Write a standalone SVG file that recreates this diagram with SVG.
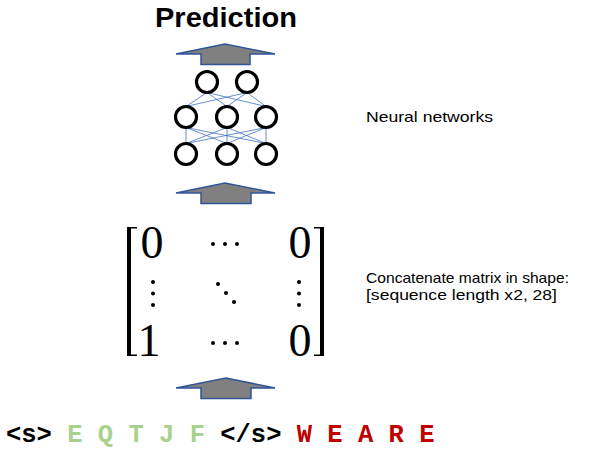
<svg xmlns="http://www.w3.org/2000/svg" width="597" height="449" viewBox="0 0 597 449">
<style>
.arrow{fill:#808080;stroke:#2F5597;stroke-width:1.5;stroke-linejoin:miter}
.node{fill:#ffffff;stroke:#000000;stroke-width:3.2}
.edge{stroke:#4472C4;stroke-width:0.8;fill:none}
.label{font-family:"Liberation Sans",Arial,sans-serif;font-size:15px;fill:#000}
.mat{font-family:"Liberation Serif","DejaVu Serif",serif;font-size:46px;fill:#000;text-anchor:middle}
.dot{fill:#000}
.tok{font-family:"Liberation Mono","Courier New",monospace;font-weight:bold;font-size:25.5px}
</style>
<rect width="597" height="449" fill="#ffffff"/>
<g id="title">
<text x="226" y="27" font-family="Liberation Sans, Arial, sans-serif" font-weight="bold" font-size="28" text-anchor="middle" textLength="142" lengthAdjust="spacingAndGlyphs">Prediction</text>
</g>
<g id="arrows">
<path class="arrow" d="M176,54 L225,44 L275,54 L250,54 L250,64.5 L201,64.5 L201,54 Z"/>
<path class="arrow" d="M176,193 L225,183 L275,193 L251,193 L251,203.5 L201,203.5 L201,193 Z"/>
<path class="arrow" d="M176,388 L226,378 L275,388 L251,388 L251,398.5 L201,398.5 L201,388 Z"/>
</g>
<g id="connectors">
<line class="edge" x1="207" y1="92.5" x2="186" y2="106.5"/>
<line class="edge" x1="207" y1="92.5" x2="227" y2="106.5"/>
<line class="edge" x1="207" y1="92.5" x2="266" y2="106.5"/>
<line class="edge" x1="247" y1="92.5" x2="186" y2="106.5"/>
<line class="edge" x1="247" y1="92.5" x2="227" y2="106.5"/>
<line class="edge" x1="247" y1="92.5" x2="266" y2="106.5"/>
<line class="edge" x1="186" y1="127.5" x2="186" y2="143.5"/>
<line class="edge" x1="186" y1="127.5" x2="227" y2="143.5"/>
<line class="edge" x1="186" y1="127.5" x2="266" y2="143.5"/>
<line class="edge" x1="227" y1="127.5" x2="186" y2="143.5"/>
<line class="edge" x1="227" y1="127.5" x2="227" y2="143.5"/>
<line class="edge" x1="227" y1="127.5" x2="266" y2="143.5"/>
<line class="edge" x1="266" y1="127.5" x2="186" y2="143.5"/>
<line class="edge" x1="266" y1="127.5" x2="227" y2="143.5"/>
<line class="edge" x1="266" y1="127.5" x2="266" y2="143.5"/>
</g>
<g id="n1"><circle class="node" cx="207" cy="82" r="10.5"/></g>
<g id="n2"><circle class="node" cx="247" cy="82" r="10.5"/></g>
<g id="n3"><circle class="node" cx="186" cy="117" r="10.5"/></g>
<g id="n4"><circle class="node" cx="227" cy="117" r="10.5"/></g>
<g id="n5"><circle class="node" cx="266" cy="117" r="10.5"/></g>
<g id="n6"><circle class="node" cx="186" cy="154" r="10.5"/></g>
<g id="n7"><circle class="node" cx="227" cy="154" r="10.5"/></g>
<g id="n8"><circle class="node" cx="266" cy="154" r="10.5"/></g>
<g id="label-nn">
<text class="label" x="366" y="122" textLength="127" lengthAdjust="spacingAndGlyphs">Neural networks</text>
</g>
<g id="matrix">
<path d="M127,227 L137,227 L137,228.6 L131,228.6 L131,354.4 L137,354.4 L137,356 L127,356 Z" fill="#000"/>
<path d="M324,227 L314,227 L314,228.6 L320,228.6 L320,354.4 L314,354.4 L314,356 L324,356 Z" fill="#000"/>
<text class="mat" x="152" y="258">0</text>
<text class="mat" x="300" y="258">0</text>
<text class="mat" x="149" y="356">1</text>
<text class="mat" x="300" y="356">0</text>
<circle class="dot" cx="213" cy="244" r="2"/>
<circle class="dot" cx="225" cy="244" r="2"/>
<circle class="dot" cx="237" cy="244" r="2"/>
<circle class="dot" cx="213" cy="343" r="2"/>
<circle class="dot" cx="225" cy="343" r="2"/>
<circle class="dot" cx="237" cy="343" r="2"/>
<circle class="dot" cx="153" cy="282" r="2"/>
<circle class="dot" cx="153" cy="293.5" r="2"/>
<circle class="dot" cx="153" cy="305" r="2"/>
<circle class="dot" cx="299" cy="282" r="2"/>
<circle class="dot" cx="299" cy="293.5" r="2"/>
<circle class="dot" cx="299" cy="305" r="2"/>
<circle class="dot" cx="218" cy="284" r="2"/>
<circle class="dot" cx="226" cy="293" r="2"/>
<circle class="dot" cx="234" cy="302" r="2"/>
</g>
<g id="label-matrix">
<text class="label" x="366" y="283" textLength="203" lengthAdjust="spacingAndGlyphs">Concatenate matrix in shape:</text>
<text class="label" x="366" y="300" textLength="191" lengthAdjust="spacingAndGlyphs">[sequence length x2, 28]</text>
</g>
<g id="tokens">
<text class="tok" x="6" y="442" xml:space="preserve"><tspan fill="#000000">&lt;s&gt; </tspan><tspan fill="#A9D18E">E Q T J F </tspan><tspan fill="#000000">&lt;/s&gt; </tspan><tspan fill="#C00000">W E A R E</tspan></text>
</g>
</svg>
